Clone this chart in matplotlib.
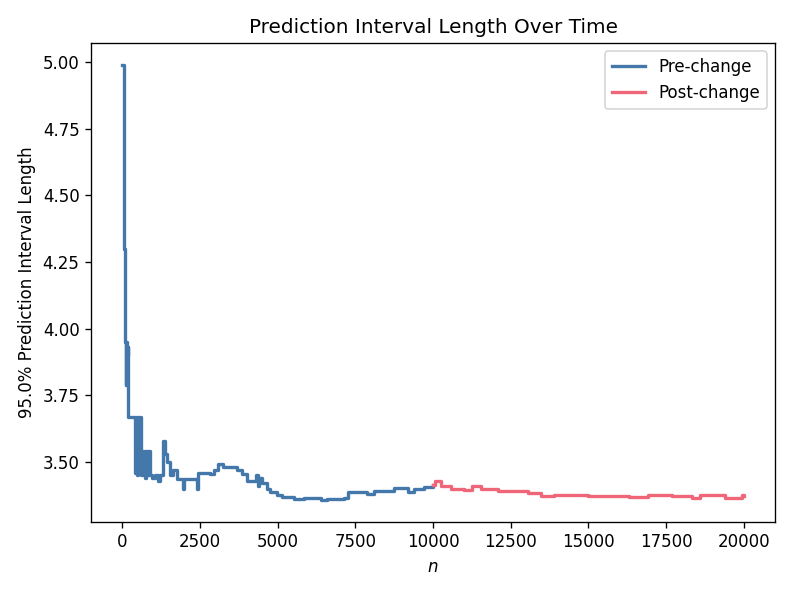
import matplotlib
matplotlib.use("Agg")
from matplotlib import pyplot as plt
from matplotlib.ticker import MultipleLocator

# values, step points (n, interval length)
n_pre = [
    5, 50, 60, 80, 100, 115, 130, 145, 160, 175, 190, 200, 240, 300, 390,
    420, 450, 480, 510, 540, 570, 600, 630, 660, 700, 740, 780, 820, 860, 900, 960,
    1050, 1150, 1230, 1300, 1390, 1440, 1550, 1650, 1710, 1760, 1960, 2000,
    2410, 2430, 2450, 2840, 2940, 3070, 3260, 3700, 3860, 4020, 4180, 4310,
    4360, 4400, 4500, 4670, 4770, 4990, 5150, 5520, 5850, 6390, 6600, 7130,
    7270, 7680, 7890, 8100, 8420, 8750, 9180, 9400, 9720, 9990,
]
len_pre = [
    4.99, 4.60, 4.30, 4.15, 3.95, 3.79, 3.95, 3.80, 3.90, 3.79, 3.93, 3.67, 3.67, 3.67, 3.67,
    3.46, 3.67, 3.45, 3.67, 3.46, 3.67, 3.45, 3.54, 3.45, 3.54, 3.44, 3.54, 3.45, 3.54, 3.45, 3.44,
    3.45, 3.43, 3.45, 3.58, 3.53, 3.50, 3.45, 3.47, 3.47, 3.435, 3.40, 3.435,
    3.40, 3.435, 3.46, 3.456, 3.47, 3.494, 3.481, 3.47, 3.456, 3.43, 3.43, 3.45,
    3.41, 3.44, 3.423, 3.40, 3.386, 3.376, 3.37, 3.36, 3.365, 3.358, 3.36, 3.367,
    3.386, 3.386, 3.38, 3.39, 3.39, 3.402, 3.388, 3.40, 3.406, 3.414,
]

n_post = [
    10000, 10060, 10260, 10580, 11000, 11260, 11550, 12100, 12740, 13060,
    13480, 13900, 14500, 15000, 15740, 16300, 16930, 17680, 18320, 18580,
    19390, 19940, 20000,
]
len_post = [
    3.414, 3.428, 3.41, 3.40, 3.395, 3.41, 3.40, 3.393, 3.39, 3.385,
    3.373, 3.376, 3.376, 3.372, 3.374, 3.368, 3.376, 3.372, 3.367, 3.376,
    3.367, 3.376, 3.372,
]

fig, ax = plt.subplots(figsize=(793 / 120, 594 / 120), dpi=120)
ax.plot(n_pre, len_pre, color="#4477AA", lw=2, drawstyle="steps-post", label="Pre-change")
ax.plot(n_post, len_post, color="#EE6677", lw=2, drawstyle="steps-post", label="Post-change")
ax.yaxis.set_major_locator(MultipleLocator(0.25))
ax.set_title("Prediction Interval Length Over Time")
ax.set_xlabel("$n$")
ax.set_ylabel("95.0% Prediction Interval Length")
ax.legend(loc="upper right")
fig.tight_layout()
fig.savefig("out.png", dpi=120)
